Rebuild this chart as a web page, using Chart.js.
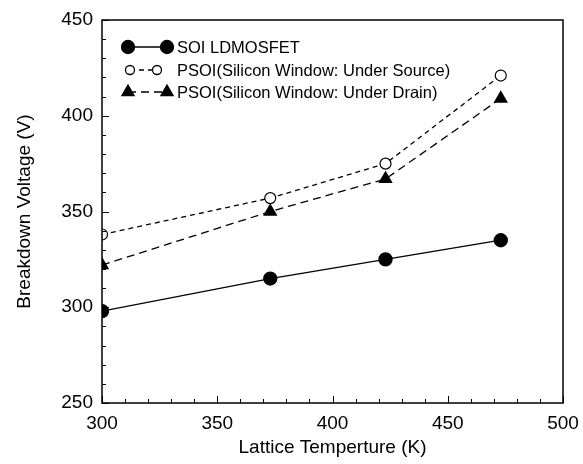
<!DOCTYPE html>
<html>
<head>
<meta charset="utf-8">
<script src="https://cdn.jsdelivr.net/npm/chart.js@4.4.1/dist/chart.umd.min.js"></script>
<style>
  html, body { margin: 0; padding: 0; background: #fff; }
  #wrap { width: 583px; height: 464px; }
</style>
</head>
<body>
<div id="wrap"><canvas id="bvChart" width="583" height="464"></canvas></div>
<script>
const temps = [300, 373, 423, 473];
const soiLdmos = [298, 315, 325, 335];
const psoiSource = [338, 357, 375, 421];
const psoiDrain = [322, 350, 367, 409];
const seriesLabels = [
  "SOI LDMOSFET",
  "PSOI(Silicon Window: Under Source)",
  "PSOI(Silicon Window: Under Drain)"
];

const FONT = "'Liberation Sans', Arial, Helvetica, sans-serif";

// ticks pointing into the plot, major every 50, minor every 10
const innerTicks = {
  id: "innerTicks",
  afterDraw(chart) {
    const { ctx, chartArea: a } = chart;
    const xs = chart.scales.x, ys = chart.scales.y;
    ctx.save();
    ctx.strokeStyle = "#000";
    ctx.lineWidth = 1;
    ctx.beginPath();
    for (let v = 300; v <= 500; v += 10) {
      const px = Math.round(xs.getPixelForValue(v)) + 0.5;
      const len = v % 50 === 0 ? 7 : 4;
      ctx.moveTo(px, a.bottom);
      ctx.lineTo(px, a.bottom - len);
    }
    for (let v = 250; v <= 450; v += 10) {
      const py = Math.round(ys.getPixelForValue(v)) + 0.5;
      const len = v % 50 === 0 ? 7 : 4;
      ctx.moveTo(a.left, py);
      ctx.lineTo(a.left + len, py);
    }
    ctx.stroke();
    ctx.lineWidth = 1.5;
    ctx.strokeRect(a.left, a.top, a.right - a.left, a.bottom - a.top);
    ctx.restore();
  }
};

// legend drawn inside the plot, top left
const insideLegend = {
  id: "insideLegend",
  afterDraw(chart) {
    const { ctx } = chart;
    const rows = [
      { y: 47, x1: 128, x2: 167 },
      { y: 70, x1: 130, x2: 157 },
      { y: 92, x1: 128, x2: 167 }
    ];
    ctx.save();
    chart.data.datasets.forEach((ds, i) => {
      const r = rows[i];
      ctx.strokeStyle = "#000";
      ctx.lineWidth = 1.3;
      ctx.setLineDash(ds.borderDash || []);
      ctx.beginPath();
      ctx.moveTo(r.x1, r.y);
      ctx.lineTo(r.x2, r.y);
      ctx.stroke();
      ctx.setLineDash([]);
      [r.x1, r.x2].forEach(px => {
        ctx.fillStyle = ds.pointBackgroundColor;
        ctx.strokeStyle = "#000";
        Chart.helpers.drawPoint(ctx, {
          pointStyle: ds.pointStyle,
          radius: i === 1 ? 4.5 : ds.pointRadius,
          rotation: 0,
          borderWidth: 1.2
        }, px, r.y);
      });
      ctx.fillStyle = "#000";
      ctx.font = "16.5px " + FONT;
      ctx.textBaseline = "middle";
      ctx.fillText(ds.label, 177, r.y + 1);
    });
    ctx.restore();
  }
};

const ctx = document.getElementById("bvChart").getContext("2d");

new Chart(ctx, {
  type: "line",
  data: {
    datasets: [
      {
        label: seriesLabels[0],
        data: temps.map((t, i) => ({ x: t, y: soiLdmos[i] })),
        borderColor: "#000",
        borderWidth: 1.3,
        pointStyle: "circle",
        pointRadius: 6.5,
        pointBackgroundColor: "#000",
        pointBorderColor: "#000",
      },
      {
        label: seriesLabels[1],
        data: temps.map((t, i) => ({ x: t, y: psoiSource[i] })),
        borderColor: "#000",
        borderWidth: 1.3,
        borderDash: [5, 4],
        pointStyle: "circle",
        pointRadius: 5.5,
        pointBorderWidth: 1.2,
        pointBackgroundColor: "#fff",
        pointBorderColor: "#000",
      },
      {
        label: seriesLabels[2],
        data: temps.map((t, i) => ({ x: t, y: psoiDrain[i] })),
        borderColor: "#000",
        borderWidth: 1.3,
        borderDash: [8, 5],
        pointStyle: "triangle",
        pointRadius: 7,
        pointBackgroundColor: "#000",
        pointBorderColor: "#000",
      }
    ]
  },
  options: {
    responsive: false,
    animation: false,
    layout: { padding: { top: 20, right: 20, left: 0, bottom: 0 } },
    plugins: {
      legend: { display: false },
      tooltip: { enabled: false }
    },
    scales: {
      x: {
        type: "linear",
        min: 300,
        max: 500,
        ticks: {
          stepSize: 50,
          color: "#000",
          padding: 9,
          font: { family: FONT, size: 19 }
        },
        grid: { display: false, drawTicks: false },
        border: { display: false },
        title: {
          display: true,
          text: "Lattice Temperture (K)",
          color: "#000",
          font: { family: FONT, size: 19 },
          padding: { top: 0, bottom: 5 }
        },
        afterFit(scale) {
          scale.height = 61;
          scale.paddingLeft = 0;
          scale.paddingRight = 0;
        }
      },
      y: {
        type: "linear",
        min: 250,
        max: 450,
        ticks: {
          stepSize: 50,
          color: "#000",
          padding: 9,
          font: { family: FONT, size: 19 }
        },
        grid: { display: false, drawTicks: false },
        border: { display: false },
        title: {
          display: true,
          text: "Breakdown Voltage (V)",
          color: "#000",
          font: { family: FONT, size: 19 },
          padding: { top: 13, bottom: 0 }
        },
        afterFit(scale) {
          scale.width = 102;
          scale.paddingTop = 0;
          scale.paddingBottom = 0;
        }
      }
    }
  },
  plugins: [innerTicks, insideLegend]
});
</script>
</body>
</html>
